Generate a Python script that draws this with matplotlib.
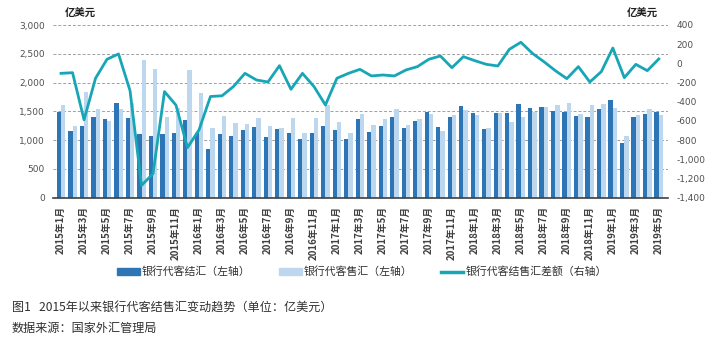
import matplotlib
matplotlib.use("Agg")
import matplotlib.pyplot as plt
import numpy as np
from matplotlib.patches import Patch
from matplotlib.lines import Line2D
from matplotlib.ticker import FuncFormatter, MultipleLocator

plt.rcParams['font.family'] = ['Noto Sans CJK SC', 'DejaVu Sans']

months = [f"{y}年{m}月" for y in range(2015, 2020) for m in range(1, 13)][:53]

settle = [1490, 1160, 1250, 1395, 1375, 1644, 1378, 1106, 1077, 1106,
          1123, 1345, 1118, 845, 1100, 1066, 1175, 1222, 1048, 1193,
          1123, 1019, 1123, 1239, 1170, 1019, 1372, 1141, 1239, 1407,
          1204, 1332, 1482, 1236, 1395, 1587, 1465, 1187, 1470, 1476,
          1627, 1557, 1575, 1511, 1482, 1418, 1401, 1546, 1696, 944,
          1401, 1453, 1482]

sale = [1609, 1245, 1830, 1534, 1332, 1540, 1650, 2390, 2229, 1395,
        1560, 2217, 1812, 1204, 1418, 1291, 1279, 1389, 1245, 1204,
        1389, 1118, 1389, 1609, 1320, 1118, 1450, 1257, 1361, 1546,
        1257, 1361, 1453, 1155, 1430, 1523, 1430, 1204, 1470, 1320,
        1395, 1482, 1570, 1604, 1639, 1448, 1604, 1621, 1552, 1071,
        1436, 1534, 1436]

balance = [-104, -97, -588, -155, 43, 98, -284, -1272, -1150, -294,
           -436, -878, -694, -345, -338, -241, -104, -173, -194, -24,
           -270, -104, -241, -434, -155, -104, -62, -131, -121, -131,
           -69, -34, 43, 77, -45, 70, 28, -10, -27, 147,
           220, 105, 18, -76, -159, -34, -194, -86, 160, -149,
           -10, -76, 46]

legend_labels = ["银行代客结汇（左轴）", "银行代客售汇（左轴）", "银行代客结售汇差额（右轴）"]
caption = "图1   2015年以来银行代客结售汇变动趋势（单位：亿美元）"
source = "数据来源：国家外汇管理局"

c_dark = "#2E75B6"
c_light = "#BDD7EE"
c_line = "#17A6B6"
c_text = "#404040"

W, H = 713, 351
fig = plt.figure(figsize=(W / 100, H / 100), dpi=100)
ax = fig.add_axes([53 / W, 1 - 197.7 / H, (668 - 53) / W, (197.7 - 25) / H])
x = np.arange(len(months))
bw = 0.38
ax.bar(x - 0.19, settle, width=bw, color=c_dark, zorder=2)
ax.bar(x + 0.19, sale, width=bw, color=c_light, zorder=2)
ax.set_ylim(0, 3000)
ax.set_xlim(-0.7, 52.8)
ax.yaxis.set_major_locator(MultipleLocator(500))
ax.yaxis.set_major_formatter(FuncFormatter(lambda v, p: f"{int(v):,}"))
ax.grid(axis='y', linestyle=(0, (3, 2)), color='#A0A0A0', linewidth=0.7, zorder=0)
ax.set_axisbelow(True)
for s in ['top', 'right', 'left']:
    ax.spines[s].set_visible(False)
ax.spines['bottom'].set_color('#404040')
ax.spines['bottom'].set_linewidth(1.2)
ax.set_xticks(x[::2])
ax.set_xticklabels(months[::2], rotation=90, fontsize=7, color=c_text, fontweight='bold')
ax.tick_params(axis='x', length=0, pad=6)
ax.tick_params(axis='y', length=0, pad=6, labelcolor='#505050')
for t in ax.get_yticklabels():
    t.set_fontfamily(['DejaVu Sans'])
    t.set_fontsize(6.5)

ax2 = ax.twinx()
ax2.plot(x, balance, color=c_line, linewidth=2.0, zorder=3)
ax2.set_ylim(-1400, 400)
ax2.yaxis.set_major_locator(MultipleLocator(200))
ax2.yaxis.set_major_formatter(FuncFormatter(lambda v, p: f"{int(v):,}"))
for s in ['top', 'right', 'left', 'bottom']:
    ax2.spines[s].set_visible(False)
ax2.tick_params(axis='y', length=0, pad=6, labelcolor='#505050')
for t in ax2.get_yticklabels():
    t.set_fontfamily(['DejaVu Sans'])
    t.set_fontsize(6.5)

fig.text(65 / W, 1 - 13 / H, "亿美元", fontsize=7.5, fontweight='bold', color='#202020', va='center', ha='left')
fig.text(658 / W, 1 - 13 / H, "亿美元", fontsize=7.5, fontweight='bold', color='#202020', va='center', ha='right')

handles = [Patch(color=c_dark), Patch(color=c_light), Line2D([0], [0], color=c_line, linewidth=2.5)]
fig.legend(handles, legend_labels, loc='center', bbox_to_anchor=(362 / W, 1 - 272 / H), ncol=3,
           frameon=False, fontsize=7.8, handlelength=2.1, handleheight=0.6, columnspacing=2.6,
           handletextpad=0.2, labelcolor='#303030')

fig.text(12 / W, 1 - 308 / H, caption, fontsize=8.7, color='#303030', va='center', ha='left')
fig.text(12 / W, 1 - 328 / H, source, fontsize=8.7, color='#303030', va='center', ha='left')

fig.savefig("out.png", dpi=100)
